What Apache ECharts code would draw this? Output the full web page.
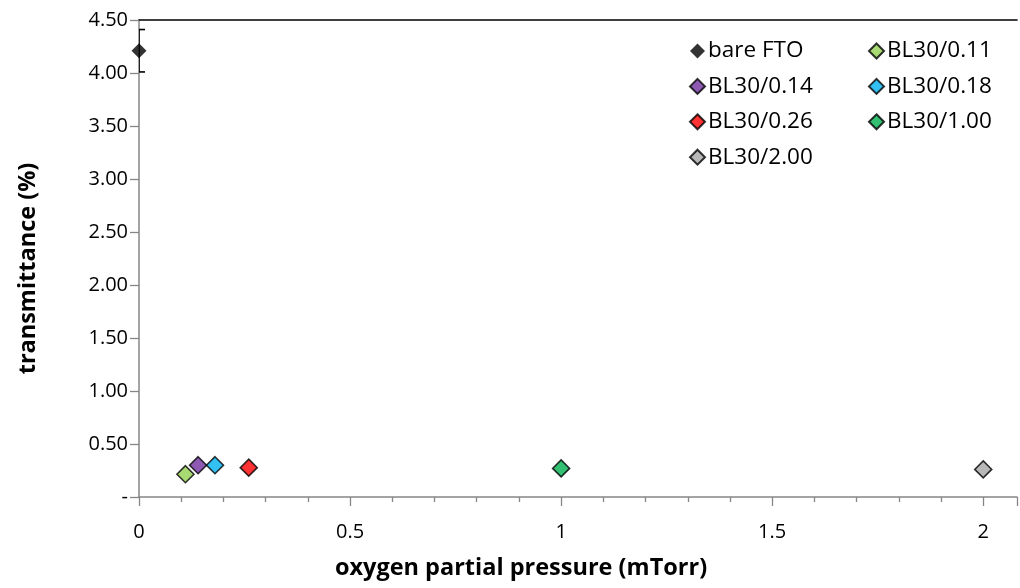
<!DOCTYPE html>
<html>
<head>
<meta charset="utf-8">
<script src="https://cdn.jsdelivr.net/npm/echarts@6/dist/echarts.min.js"></script>
<style>
  html, body { margin: 0; padding: 0; background: #fff; }
  #chart { width: 1020px; height: 588px; }
</style>
</head>
<body>
<div id="chart"></div>
<script>
// Samples: name, oxygen partial pressure (mTorr), transmittance (%), colour
const sampleNames = ['bare FTO', 'BL30/0.11', 'BL30/0.14', 'BL30/0.18', 'BL30/0.26', 'BL30/1.00', 'BL30/2.00'];
const pressure = [0, 0.11, 0.14, 0.18, 0.26, 1.00, 2.00];
const transmittance = [4.21, 0.215, 0.30, 0.30, 0.277, 0.27, 0.26];
const sampleColors = ['#000000', '#92d050', '#7030a0', '#00b0f0', '#ff0000', '#00b050', '#a6a6a6'];
// Error bar for bare FTO (± value)
const bareError = 0.2;

// Legend is laid out in two columns, row by row
const legendLeftColumn = ['bare FTO', 'BL30/0.14', 'BL30/0.26', 'BL30/2.00'];
const legendRightColumn = ['BL30/0.11', 'BL30/0.18', 'BL30/1.00'];

const FONT = '"Open Sans", "Noto Sans", sans-serif';

const chart = echarts.init(document.getElementById('chart'));

const scatterSeries = sampleNames.map((name, i) => ({
  name: name,
  type: 'scatter',
  symbol: 'diamond',
  symbolSize: i === 0 ? 15 : 17,
  itemStyle: {
    color: sampleColors[i],
    borderColor: '#000',
    borderWidth: i === 0 ? 0 : 1.6
  },
  data: [[pressure[i], transmittance[i]]],
  z: 3
}));

const errorSeries = {
  type: 'custom',
  name: 'error',
  clip: true,
  silent: true,
  data: [[pressure[0], transmittance[0] - bareError, transmittance[0] + bareError]],
  renderItem: function (params, api) {
    const lo = api.coord([api.value(0), api.value(1)]);
    const hi = api.coord([api.value(0), api.value(2)]);
    const cap = 6;
    const style = { stroke: '#000', lineWidth: 1.6 };
    return {
      type: 'group',
      children: [
        { type: 'line', shape: { x1: lo[0], y1: lo[1], x2: hi[0], y2: hi[1] }, style: style },
        { type: 'line', shape: { x1: lo[0] - cap, y1: lo[1], x2: lo[0] + cap, y2: lo[1] }, style: style },
        { type: 'line', shape: { x1: hi[0] - cap, y1: hi[1], x2: hi[0] + cap, y2: hi[1] }, style: style }
      ]
    };
  },
  z: 2
};

const legendCommon = {
  orient: 'vertical',
  top: 34,
  itemGap: 11.4,
  itemWidth: 15,
  itemHeight: 15,
  icon: 'diamond',
  selectedMode: false,
  textStyle: { fontFamily: FONT, fontSize: 22.5, lineHeight: 24, color: '#000', padding: [0, 0, 0, -2] }
};

chart.setOption({
  animation: false,
  backgroundColor: '#fff',
  textStyle: { fontFamily: FONT },
  grid: { left: 139, right: 3, top: 20, bottom: 91 },
  legend: [
    Object.assign({ data: legendLeftColumn, left: 684 }, legendCommon),
    Object.assign({ data: legendRightColumn, left: 863 }, legendCommon)
  ],
  xAxis: [{
    type: 'value',
    min: 0,
    max: 2.08,
    interval: 0.5,
    name: 'oxygen partial pressure (mTorr)',
    nameLocation: 'middle',
    nameGap: 59,
    nameTextStyle: { fontFamily: FONT, fontSize: 23.5, fontWeight: 'bold', color: '#000', padding: [0, 114, 0, 0] },
    axisLine: { lineStyle: { color: '#868686', width: 1.5 } },
    axisTick: { show: true, length: 9, lineStyle: { color: '#868686', width: 1.3 } },
    minorTick: { show: true, splitNumber: 5, length: 5, lineStyle: { color: '#868686', width: 1.3 } },
    axisLabel: {
      fontFamily: FONT, fontSize: 20, color: '#000', margin: 25, showMaxLabel: false,
      formatter: v => String(Math.round(v * 10) / 10)
    },
    splitLine: { show: false }
  }, {
    type: 'value',
    position: 'top',
    min: 0,
    max: 2.08,
    axisLine: { show: true, lineStyle: { color: '#000', width: 1.6 } },
    axisTick: { show: false },
    axisLabel: { show: false },
    splitLine: { show: false }
  }],
  yAxis: {
    type: 'value',
    min: 0,
    max: 4.5,
    interval: 0.5,
    name: 'transmittance (%)',
    nameLocation: 'middle',
    nameGap: 99,
    nameTextStyle: { fontFamily: FONT, fontSize: 23.5, fontWeight: 'bold', color: '#000', padding: [0, 20, 0, 0] },
    axisLine: { show: true, lineStyle: { color: '#868686', width: 1.5 } },
    axisTick: { show: true, length: 9, lineStyle: { color: '#868686', width: 1.3 } },
    axisLabel: {
      fontFamily: FONT, fontSize: 20, color: '#000', margin: 11,
      formatter: v => (v === 0 ? '-' : v.toFixed(2))
    },
    splitLine: { show: false }
  },
  series: [errorSeries].concat(scatterSeries)
});
</script>
</body>
</html>
